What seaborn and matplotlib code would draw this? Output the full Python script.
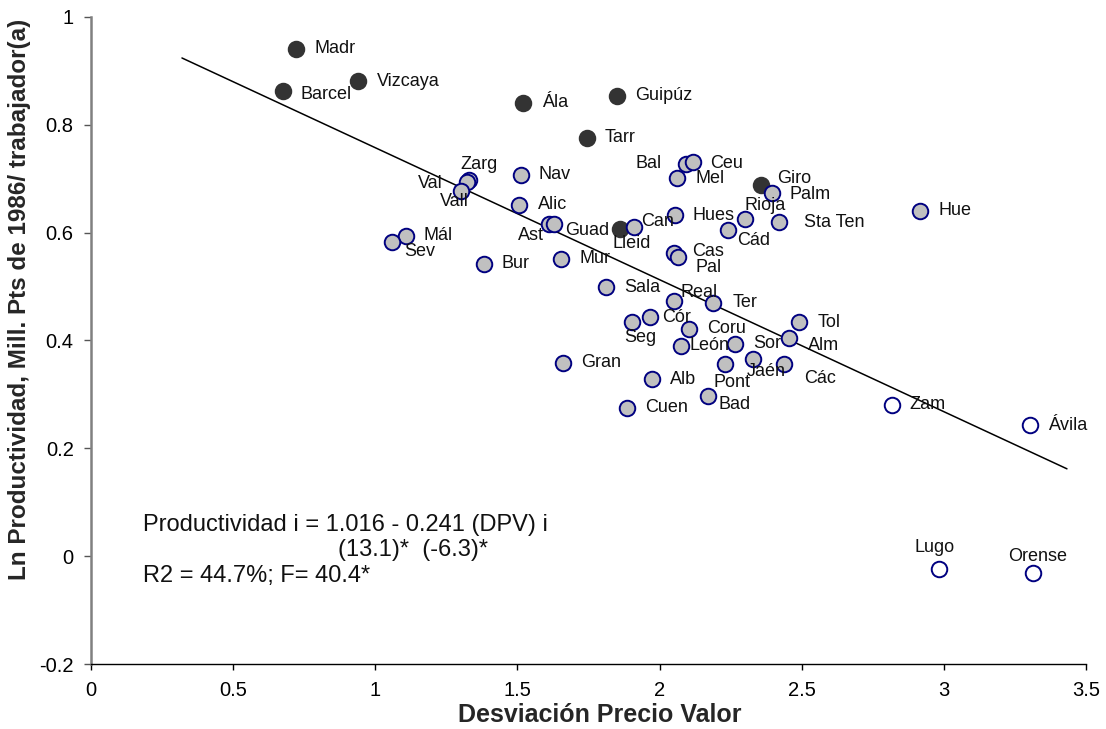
import matplotlib
matplotlib.use("Agg")
import matplotlib.pyplot as plt
import seaborn as sns
import pandas as pd

# ---------------- data ----------------
names = ["Madr", "Barcel", "Vizcaya", "Ála", "Guipúz", "Tarr", "Giro", "Lleid",
         "Zarg", "Val", "Vall", "Nav", "Alic", "Ast", "Guad", "Can", "Mál", "Sev",
         "Bur", "Mur", "Sala", "Seg", "Cór", "Real", "Bal", "Ceu", "Mel", "Palm",
         "Hues", "Rioja", "Sta Ten", "Cád", "Cas", "Pal", "Ter", "Tol", "Coru",
         "León", "Sor", "Alm", "Jaén", "Pont", "Các", "Gran", "Alb", "Bad", "Cuen",
         "Hue", "Zam", "Ávila", "Lugo", "Orense"]
dpv = [0.722, 0.676, 0.940, 1.521, 1.852, 1.743, 2.356, 1.860,
       1.330, 1.324, 1.302, 1.511, 1.505, 1.610, 1.630, 1.910, 1.109, 1.060,
       1.381, 1.654, 1.813, 1.904, 1.968, 2.050, 2.092, 2.119, 2.062, 2.394,
       2.053, 2.299, 2.419, 2.241, 2.050, 2.064, 2.188, 2.491, 2.104,
       2.075, 2.265, 2.454, 2.329, 2.229, 2.437, 1.660, 1.974, 2.169, 1.885,
       2.917, 2.816, 3.302, 2.982, 3.315]
prod = [0.941, 0.863, 0.881, 0.841, 0.854, 0.776, 0.689, 0.607,
        0.698, 0.694, 0.678, 0.707, 0.651, 0.617, 0.616, 0.610, 0.594, 0.583,
        0.542, 0.552, 0.499, 0.434, 0.443, 0.474, 0.728, 0.731, 0.701, 0.673,
        0.633, 0.626, 0.620, 0.605, 0.562, 0.554, 0.470, 0.434, 0.422,
        0.390, 0.393, 0.405, 0.365, 0.356, 0.356, 0.359, 0.328, 0.297, 0.275,
        0.641, 0.281, 0.243, -0.024, -0.032]
groups = (["dark"] * 8) + (["gray"] * 40) + (["white"] * 4)

trend_x = [0.32, 3.433]
trend_y = [0.924, 0.162]

x_ticks = [0, 0.5, 1, 1.5, 2, 2.5, 3, 3.5]
x_tick_labels = ["0", "0.5", "1", "1.5", "2", "2.5", "3", "3.5"]
y_ticks = [-0.2, 0, 0.2, 0.4, 0.6, 0.8, 1]
y_tick_labels = ["-0.2", "0", "0.2", "0.4", "0.6", "0.8", "1"]

# label offsets in pixels (dx right, dy down) and horizontal alignment
label_pos = {
    "Madr": (18, 0, "left"), "Barcel": (17, 4, "left"), "Vizcaya": (19, 0, "left"),
    "Ála": (19, 0, "left"), "Guipúz": (18, 0, "left"), "Tarr": (18, 0, "left"),
    "Giro": (16, -6, "left"), "Lleid": (-7, 15, "left"), "Zarg": (-9, -15, "left"),
    "Val": (-25, 2, "right"), "Vall": (-21, 11, "left"), "Nav": (18, 0, "left"),
    "Alic": (19, -1, "left"), "Ast": (-5, 12, "right"), "Guad": (11, 6, "left"),
    "Can": (7, -6, "left"), "Mál": (17, 0, "left"), "Sev": (12, 10, "left"),
    "Bur": (18, 0, "left"), "Mur": (18, 0, "left"), "Sala": (18, 0, "left"),
    "Seg": (-8, 15, "left"), "Cór": (12, 0, "left"), "Real": (7, -8, "left"),
    "Bal": (-24, 0, "right"), "Ceu": (17, 1, "left"), "Mel": (18, 0, "left"),
    "Palm": (18, 1, "left"), "Hues": (18, 1, "left"), "Rioja": (0, -13, "left"),
    "Sta Ten": (25, 1, "left"), "Cád": (9, 11, "left"), "Cas": (18, -2, "left"),
    "Pal": (18, 10, "left"), "Ter": (20, 0, "left"), "Tol": (18, 0, "left"),
    "Coru": (18, 0, "left"), "León": (9, 0, "left"), "Sor": (18, -1, "left"),
    "Alm": (19, 8, "left"), "Jaén": (-6, 12, "left"), "Pont": (-11, 18, "left"),
    "Các": (20, 14, "left"), "Gran": (18, 0, "left"), "Alb": (18, 0, "left"),
    "Bad": (11, 8, "left"), "Cuen": (18, 0, "left"), "Hue": (18, 0, "left"),
    "Zam": (18, 0, "left"), "Ávila": (18, 0, "left"), "Lugo": (-4, -22, "center"),
    "Orense": (4, -17, "center"),
}

df = pd.DataFrame({"name": names, "dpv": dpv, "prod": prod, "group": groups})

# ---------------- figure ----------------
sns.set_theme(style="white")
plt.rcParams["font.family"] = ["Liberation Sans", "DejaVu Sans"]

fig = plt.figure(figsize=(11.06, 7.29), dpi=100)
ax = fig.add_axes([91 / 1106, 65 / 729, 995 / 1106, 647 / 729])

sns.lineplot(x=trend_x, y=trend_y, ax=ax, color="black", linewidth=1.1, zorder=1)

styles = {
    "dark": dict(color="#333333", edgecolor="#333333"),
    "gray": dict(color="#C0C0C0", edgecolor="#000080"),
    "white": dict(color="white", edgecolor="#000080"),
}
for g, st in styles.items():
    sub = df[df["group"] == g]
    sns.scatterplot(data=sub, x="dpv", y="prod", ax=ax, s=125, linewidth=1.4,
                    zorder=3, legend=False, **st)

for n, xv, yv in zip(names, dpv, prod):
    dx, dy, ha = label_pos[n]
    ax.annotate(n, (xv, yv), xytext=(dx, -dy), textcoords="offset pixels",
                ha=ha, va="center", fontsize=13, color="#111111", zorder=4)

# equation text
ax.text(0.183, 0.057, "Productividad i = 1.016 - 0.241 (DPV) i", fontsize=17,
        ha="left", va="center", color="#111111")
ax.text(0.870, 0.011, "(13.1)*  (-6.3)*", fontsize=17, ha="left", va="center",
        color="#111111")
ax.text(0.183, -0.037, "R2 = 44.7%; F= 40.4*", fontsize=17, ha="left", va="center",
        color="#111111")

ax.set_xlim(0, 3.5)
ax.set_ylim(-0.2, 1)
ax.set_xticks(x_ticks)
ax.set_xticklabels(x_tick_labels)
ax.set_yticks(y_ticks)
ax.set_yticklabels(y_tick_labels)
ax.tick_params(axis="x", direction="out", length=4, width=1, labelsize=14.5,
               colors="black", pad=8, bottom=True)
ax.tick_params(axis="y", direction="out", length=5, width=1, labelsize=14.5,
               colors="black", pad=7.5, left=True)
ax.tick_params(axis="y", color="#555555")

for side in ["top", "right"]:
    ax.spines[side].set_visible(False)
ax.spines["left"].set_color("#808080")
ax.spines["left"].set_linewidth(1.8)
ax.spines["bottom"].set_color("black")
ax.spines["bottom"].set_linewidth(1.0)

ax.set_xlabel("Desviación Precio Valor", fontsize=18, fontweight="bold")
ax.set_ylabel("Ln Productividad, Mill. Pts de 1986/ trabajador(a)", fontsize=17.5,
              fontweight="bold")
ax.xaxis.set_label_coords(0.5116, -0.061)
ax.yaxis.set_label_coords(-0.060, 0.563)

fig.savefig("out.png", dpi=100)
